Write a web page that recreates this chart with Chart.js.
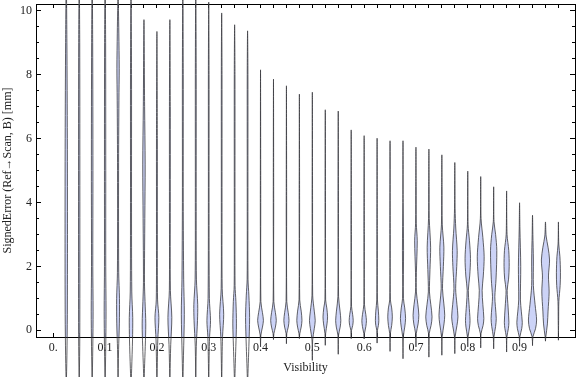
<!DOCTYPE html>
<html><head><meta charset="utf-8">
<script src="https://cdn.jsdelivr.net/npm/chart.js@4/dist/chart.umd.min.js"></script>
<style>html,body{margin:0;padding:0;background:#fff}</style>
</head><body>
<canvas id="c" width="576" height="377" style="width:576px;height:377px;display:block"></canvas>
<script>
// ---- data ----
const positions = [0.025,0.05,0.075,0.1,0.125,0.15,0.175,0.2,0.225,0.25,0.275,0.3,0.325,0.35,0.375,0.4,0.425,0.45,0.475,0.5,0.525,0.55,0.575,0.6,0.625,0.65,0.675,0.7,0.725,0.75,0.775,0.8,0.825,0.85,0.875,0.9,0.925,0.95,0.975];
const yMin = [-1.8,-1.8,-1.8,-1.8,-1.8,-1.8,-1.8,-1.8,-1.8,-1.8,-1.8,-1.8,-1.8,-1.8,-1.8,-0.52,-0.29,-0.42,-0.26,-0.94,-0.47,-0.75,-0.26,-0.27,-0.40,-0.66,-0.89,-0.52,-0.84,-0.78,-0.73,-0.52,-0.55,-0.58,-0.68,-0.50,-0.48,-0.34,-0.31];
const yMax = [11,11,11,11,11,11,9.72,9.35,9.72,11,11,10.27,9.93,9.56,9.37,8.15,7.86,7.65,7.39,7.45,6.90,6.86,6.27,6.09,6.01,5.93,5.93,5.73,5.67,5.49,5.25,4.98,4.81,4.49,4.36,3.99,3.60,3.39,3.39];
// density profile of each violin: [value, relative width]
const profiles = [
  [[-0.8,0.15],[0.5,0.25],[3,0.28],[6,0.25],[9,0.15]],
  [[-0.5,0.12],[1,0.15],[5,0.15],[9,0.12]],
  [[-0.5,0.15],[0.6,0.22],[2,0.15],[5,0.18],[9,0.12]],
  [[-0.5,0.15],[0.6,0.22],[2,0.15],[5,0.15],[9,0.12]],
  [[-0.6,0.12],[0.2,0.3],[1.0,0.33],[1.8,0.15],[5,0.12],[7.2,0.2],[8.2,0.27],[9.3,0.18],[10,0.1]],
  [[-1.2,0.15],[-0.3,0.35],[0.4,0.4],[1.2,0.18],[4,0.12],[8,0.12]],
  [[-1.2,0.12],[-0.5,0.3],[0.2,0.42],[0.9,0.25],[1.5,0.12],[3.5,0.2],[5.2,0.28],[7,0.15]],
  [[-1,0.1],[-0.3,0.2],[0.4,0.45],[0.95,0.15],[3,0.1],[6,0.1]],
  [[-1,0.1],[-0.45,0.2],[0.4,0.45],[1.25,0.12],[4,0.1],[7,0.1]],
  [[-0.8,0.15],[0.5,0.35],[1.6,0.2],[4,0.1],[8,0.1]],
  [[-0.5,0.12],[0.3,0.4],[0.8,0.45],[1.6,0.15],[4,0.1],[8,0.1]],
  [[-0.8,0.1],[-0.2,0.2],[0.3,0.42],[1.0,0.15],[4,0.08],[8,0.08]],
  [[-0.8,0.1],[-0.2,0.2],[0.5,0.47],[1.3,0.12],[4,0.08],[8,0.08]],
  [[-1.2,0.12],[-0.5,0.28],[0.2,0.42],[0.9,0.3],[1.4,0.1],[4,0.08],[8,0.08]],
  [[-1.2,0.12],[-0.5,0.3],[0.4,0.47],[1.1,0.3],[1.6,0.1],[4,0.08],[8,0.08]],
  [[-0.15,0.08],[0.1,0.45],[0.31,0.67],[0.55,0.45],[0.9,0.08],[4,0.05]],
  [[-0.1,0.1],[0.1,0.45],[0.31,0.65],[0.55,0.45],[0.9,0.08],[4,0.05]],
  [[-0.1,0.08],[0.1,0.42],[0.31,0.6],[0.55,0.42],[0.9,0.08],[4,0.05]],
  [[-0.1,0.1],[0.1,0.42],[0.31,0.6],[0.6,0.42],[0.95,0.08],[4,0.05]],
  [[-0.3,0.08],[0.05,0.45],[0.3,0.67],[0.6,0.45],[1.1,0.08],[4,0.05]],
  [[-0.1,0.08],[0.2,0.4],[0.42,0.53],[0.7,0.35],[0.95,0.08],[4,0.05]],
  [[-0.15,0.08],[0.1,0.45],[0.31,0.6],[0.6,0.42],[1.05,0.08],[4,0.05]],
  [[0,0.08],[0.15,0.35],[0.31,0.47],[0.5,0.33],[0.75,0.08],[3,0.05]],
  [[-0.1,0.08],[0.12,0.4],[0.3,0.53],[0.5,0.38],[0.8,0.08],[3,0.05]],
  [[0,0.08],[0.15,0.3],[0.31,0.4],[0.6,0.3],[0.95,0.08],[3,0.05]],
  [[-0.1,0.08],[0.15,0.38],[0.42,0.53],[0.7,0.38],[0.95,0.08],[3,0.05]],
  [[-0.2,0.08],[0.1,0.4],[0.37,0.6],[0.7,0.4],[1.0,0.1],[2.5,0.13],[4,0.05]],
  [[-0.1,0.08],[0.2,0.5],[0.47,0.67],[0.8,0.45],[1.2,0.1],[1.8,0.1],[2.8,0.3],[3.35,0.08],[4.5,0.05]],
  [[-0.1,0.08],[0.15,0.5],[0.42,0.73],[0.8,0.45],[1.2,0.13],[1.9,0.25],[2.6,0.4],[3.5,0.08],[4.5,0.05]],
  [[-0.2,0.08],[0.2,0.5],[0.47,0.67],[0.85,0.45],[1.3,0.15],[2.0,0.35],[2.6,0.47],[3.3,0.1],[4.5,0.05]],
  [[-0.2,0.08],[0.15,0.5],[0.42,0.73],[0.8,0.5],[1.3,0.2],[2.0,0.45],[2.5,0.55],[3.2,0.22],[3.8,0.07]],
  [[-0.2,0.08],[0.1,0.42],[0.31,0.53],[0.8,0.3],[1.25,0.13],[1.7,0.45],[2.25,0.63],[2.8,0.4],[3.3,0.08]],
  [[-0.1,0.08],[0.15,0.55],[0.37,0.73],[0.8,0.5],[1.25,0.33],[1.7,0.6],[2.3,0.8],[2.9,0.5],[3.5,0.08]],
  [[-0.2,0.08],[0.12,0.45],[0.37,0.6],[0.75,0.4],[1.05,0.27],[1.6,0.55],[2.5,0.73],[3.0,0.45],[3.4,0.08]],
  [[-0.2,0.08],[0.05,0.4],[0.25,0.53],[0.7,0.35],[1.25,0.13],[1.6,0.45],[2.0,0.6],[2.5,0.5],[3.0,0.1]],
  [[-0.2,0.08],[0.05,0.5],[0.25,0.63],[0.6,0.4],[0.95,0.2],[2.0,0.27],[3.2,0.08]],
  [[-0.2,0.1],[0.05,0.7],[0.32,0.95],[0.8,0.6],[1.4,0.2],[2.2,0.2],[3.0,0.08]],
  [[-0.2,0.08],[0.2,0.45],[0.6,0.6],[1.2,0.85],[1.7,0.7],[2.2,0.95],[2.6,0.6],[2.95,0.15]],
  [[0.3,0.05],[0.9,0.1],[1.4,0.4],[1.8,0.47],[2.3,0.35],[2.7,0.08]]
];
const xLabelTicks = [0,0.1,0.2,0.3,0.4,0.5,0.6,0.7,0.8,0.9];
const xLabelTexts = ['0.','0.1','0.2','0.3','0.4','0.5','0.6','0.7','0.8','0.9'];
const yLabelTicks = [0,2,4,6,8,10];
const yMinorTicks = [0,0.5,1,1.5,2,2.5,3,3.5,4,4.5,5,5.5,6,6.5,7,7.5,8,8.5,9,9.5,10];
const xTitle = 'Visibility';
const yTitle = 'SignedError (Ref\u2192Scan, B) [mm]';

// ---- presentation ----
const X_MIN = -0.0334, X_MAX = 1.007, Y_MIN = -0.21, Y_MAX = 10.21;
const PX_X = (X_MAX - X_MIN) / 539, PX_Y = (Y_MAX - Y_MIN) / 333;
const HALF = 4.3 * PX_X;         // half width (x units) of one density unit
const FILL = 'rgb(204,211,247)';
const EDGE = 'rgba(55,55,60,0.78)';
const TXT = '#222';
const FONT = {family: '"Liberation Serif", "Times New Roman", serif', size: 12};

function violinPoints(i) {
  const xc = positions[i];
  const knots = [[yMin[i], 0], ...profiles[i], [yMax[i], 0]];
  const right = knots.map(([v, d]) => ({x: xc + d * HALF, y: v}));
  const left = knots.slice().reverse().map(([v, d]) => ({x: xc - d * HALF, y: v}));
  return right.concat(left.slice(1));
}

const datasets = positions.map((p, i) => ({
  data: violinPoints(i),
  showLine: true, fill: 'shape', backgroundColor: FILL, borderColor: EDGE, borderWidth: 1,
  pointRadius: 0, pointHoverRadius: 0, pointHitRadius: 0, tension: 0.3, clip: false,
  xAxisID: 'x', yAxisID: 'y'
}));

function setTicks(arr) { return s => { s.ticks = arr.map(v => ({value: v})); }; }
function noPad(s) { s.paddingLeft = 0; s.paddingRight = 0; s.paddingTop = 0; s.paddingBottom = 0; }
function tickAxis(axis, position, arr, len) {
  return {
    type: 'linear', axis, position,
    min: axis === 'x' ? X_MIN : Y_MIN, max: axis === 'x' ? X_MAX : Y_MAX,
    afterBuildTicks: setTicks(arr),
    afterFit: noPad,
    ticks: {display: false},
    grid: {display: true, drawOnChartArea: false, drawTicks: true, tickLength: len, tickColor: '#000', tickWidth: 1},
    border: {display: false}
  };
}
const xTickPositions = [0].concat(positions);

new Chart(document.getElementById('c'), {
  type: 'scatter',
  data: {datasets},
  options: {
    responsive: false, animation: false, events: [],
    devicePixelRatio: 1,
    layout: {padding: {left: 0, right: 1, top: 4, bottom: 0}},
    elements: {line: {capBezierPoints: false}},
    plugins: {legend: {display: false}, tooltip: {enabled: false}},
    scales: {
      x: {
        type: 'linear', position: 'bottom', min: X_MIN, max: X_MAX,
        afterBuildTicks: setTicks(xLabelTicks),
        afterFit: s => { noPad(s); s.height = 40; },
        ticks: {callback: (v, i) => xLabelTexts[i], font: FONT, color: TXT, padding: -4, maxRotation: 0, autoSkip: false},
        grid: {display: false},
        border: {display: true, color: '#000', width: 1},
        title: {display: true, text: xTitle, font: FONT, color: TXT, padding: {top: 6.4, bottom: 1.8}}
      },
      y: {
        type: 'linear', position: 'left', min: Y_MIN, max: Y_MAX,
        afterBuildTicks: setTicks(yLabelTicks),
        afterFit: s => { noPad(s); s.width = 36; },
        ticks: {callback: v => String(v), font: FONT, color: TXT, padding: 0},
        grid: {display: true, drawOnChartArea: false, drawTicks: true, tickLength: 4, tickColor: 'rgba(0,0,0,0)'},
        border: {display: true, color: '#000', width: 1},
        title: {display: true, text: yTitle, font: FONT, color: TXT, padding: {top: 0.8, bottom: 4.8}}
      },
      xTop: {
        type: 'linear', axis: 'x', position: 'top', min: X_MIN, max: X_MAX,
        afterFit: s => { noPad(s); s.height = 0; },
        ticks: {display: false}, grid: {display: false},
        border: {display: true, color: '#000', width: 1}
      },
      yRight: {
        type: 'linear', axis: 'y', position: 'right', min: Y_MIN, max: Y_MAX,
        afterFit: s => { noPad(s); s.width = 0; },
        ticks: {display: false}, grid: {display: false},
        border: {display: true, color: '#000', width: 1}
      },
      xTickB: tickAxis('x', {y: Y_MIN + 4 * PX_Y}, xTickPositions, 4),
      xTickT: tickAxis('x', {y: Y_MAX}, xTickPositions, 4),
      yTickLMaj: tickAxis('y', {x: X_MIN + 5 * PX_X}, yLabelTicks, 5),
      yTickLMin: tickAxis('y', {x: X_MIN + 3 * PX_X}, yMinorTicks, 3),
      yTickRMaj: tickAxis('y', {x: X_MAX}, yLabelTicks, 5),
      yTickRMin: tickAxis('y', {x: X_MAX}, yMinorTicks, 3)
    }
  }
});
</script>
</body></html>
